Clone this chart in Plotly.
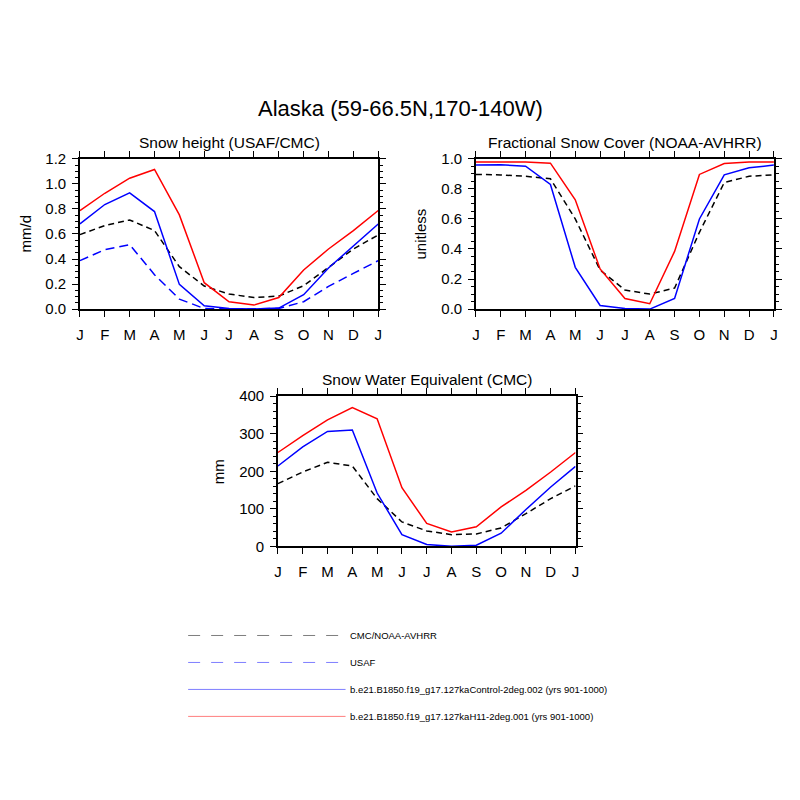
import plotly.graph_objects as go

# months Jan..Jan (13 points)
months = ["J", "F", "M", "A", "M", "J", "J", "A", "S", "O", "N", "D", "J"]
xpos = list(range(13))

# Snow height (mm/d)
sh_h11 = [0.787, 0.925, 1.045, 1.115, 0.752, 0.211, 0.059, 0.032, 0.093, 0.312, 0.48, 0.627, 0.787]
sh_ctl = [0.68, 0.835, 0.928, 0.779, 0.197, 0.027, 0.005, 0.0, 0.008, 0.115, 0.328, 0.507, 0.68]
sh_cmc = [0.595, 0.667, 0.712, 0.627, 0.339, 0.184, 0.12, 0.093, 0.104, 0.187, 0.333, 0.48, 0.592]
sh_usaf = [0.387, 0.475, 0.515, 0.275, 0.08, 0.005, 0.0, 0.0, 0.005, 0.059, 0.181, 0.285, 0.387]

# Fractional snow cover (unitless)
fsc_h11 = [0.978, 0.978, 0.978, 0.971, 0.727, 0.267, 0.071, 0.036, 0.384, 0.896, 0.969, 0.978, 0.978]
fsc_ctl = [0.958, 0.96, 0.951, 0.829, 0.278, 0.024, 0.004, 0.0, 0.071, 0.6, 0.893, 0.94, 0.958]
fsc_obs = [0.896, 0.893, 0.884, 0.867, 0.6, 0.26, 0.127, 0.1, 0.14, 0.511, 0.842, 0.884, 0.893]

# Snow water equivalent (mm)
swe_h11 = [250, 295, 337, 370, 340, 156, 61, 38, 52, 105, 149, 198, 250]
swe_ctl = [214, 265, 306, 310, 142, 31, 5, 0, 3, 35, 98, 158, 213]
swe_cmc = [167, 198, 224, 214, 127, 65, 41, 31, 33, 49, 87, 127, 161]

legend_labels = [
    "CMC/NOAA-AVHRR",
    "USAF",
    "b.e21.B1850.f19_g17.127kaControl-2deg.002 (yrs 901-1000)",
    "b.e21.B1850.f19_g17.127kaH11-2deg.001 (yrs 901-1000)",
]

FONT = "Liberation Sans, Arial, sans-serif"
W = H = 800

fig = go.Figure()

def add_line(y, color, dash, xa, ya):
    fig.add_trace(go.Scatter(
        x=xpos, y=y, mode="lines", xaxis=xa, yaxis=ya,
        line=dict(color=color, width=1.5, dash=dash),
        showlegend=False, hoverinfo="skip"
    ))

# panel 1
add_line(sh_cmc, "black", "6px,4px", "x", "y")
add_line(sh_usaf, "blue", "9px,5px", "x", "y")
add_line(sh_ctl, "blue", "solid", "x", "y")
add_line(sh_h11, "red", "solid", "x", "y")
# panel 2
add_line(fsc_obs, "black", "6px,4px", "x2", "y2")
add_line(fsc_ctl, "blue", "solid", "x2", "y2")
add_line(fsc_h11, "red", "solid", "x2", "y2")
# panel 3
add_line(swe_cmc, "black", "6px,4px", "x3", "y3")
add_line(swe_ctl, "blue", "solid", "x3", "y3")
add_line(swe_h11, "red", "solid", "x3", "y3")


def px_x(p):
    return p / W


def px_y(p):
    # screenshot seemed squashed a bit vertically, compensate
    p = (p - 8) / 0.98
    return 1 - p / H


def xaxis(dom, anchor):
    return dict(
        domain=dom, anchor=anchor, range=[0, 12],
        tickvals=xpos, ticktext=months,
        ticks="outside", ticklen=6, tickwidth=1.2, tickcolor="black",
        ticklabelstandoff=5,
        showline=True, linecolor="black", linewidth=1.5, mirror="ticks",
        showgrid=False, zeroline=False,
        tickfont=dict(family=FONT, size=15, color="black"),
    )


def yaxis(dom, anchor, rng, dtick, minor, fmt):
    return dict(
        domain=dom, anchor=anchor, range=rng, dtick=dtick, tick0=0,
        tickformat=fmt,
        ticks="outside", ticklen=6, tickwidth=1.2, tickcolor="black",
        ticklabelstandoff=3,
        minor=dict(dtick=minor, ticks="outside", ticklen=3.5, tickwidth=1, tickcolor="black"),
        showline=True, linecolor="black", linewidth=1.5, mirror="ticks",
        showgrid=False, zeroline=False,
        tickfont=dict(family=FONT, size=15, color="black"),
    )


top_dom = [px_y(308.5), px_y(158)]
bot_dom = [px_y(546), px_y(395.7)]

fig.update_layout(
    width=W, height=H,
    margin=dict(l=0, r=0, t=0, b=0),
    paper_bgcolor="white", plot_bgcolor="white",
    font=dict(family=FONT, color="black"),
    xaxis=xaxis([px_x(76.7), px_x(378)], "y"),
    yaxis=yaxis(top_dom, "x", [0, 1.2], 0.2, 0.05, ".1f"),
    xaxis2=xaxis([px_x(476.7), px_x(777.7)], "y2"),
    yaxis2=yaxis(top_dom, "x2", [0, 1.0], 0.2, 0.05, ".1f"),
    xaxis3=xaxis([px_x(276.7), px_x(577.3)], "y3"),
    yaxis3=yaxis(bot_dom, "x3", [0, 400], 100, 20, "d"),
)

ann = []


def text(x, y, s, size, angle=0, xanchor="center"):
    ann.append(dict(
        x=px_x(x), y=px_y(y), xref="paper", yref="paper", text=s,
        showarrow=False, xanchor=xanchor, yanchor="middle", textangle=angle,
        font=dict(family=FONT, size=size, color="black"),
    ))


text(401, 108, "Alaska (59-66.5N,170-140W)", 22)
text(227.5, 142, "Snow height (USAF/CMC)", 15.5)
text(627, 142, "Fractional Snow Cover (NOAA-AVHRR)", 15.5)
text(427, 379, "Snow Water Equivalent (CMC)", 15.5)
text(22, 233, "mm/d", 15, -90)
text(421, 233, "unitless", 15, -90)
text(217, 471, "mm", 15, -90)

# legend drawn at the bottom of the page
leg_rows = [635.3, 662.3, 689.3, 716.3]
leg_styles = [("#7f7f7f", "12px,11px"), ("#7f7fff", "12px,11px"), ("#7f7fff", "solid"), ("#ff7f7f", "solid")]
shapes = []
for row, (col, dash), lab in zip(leg_rows, leg_styles, legend_labels):
    shapes.append(dict(
        type="line", xref="paper", yref="paper",
        x0=px_x(186), x1=px_x(345), y0=px_y(row), y1=px_y(row),
        line=dict(color=col, width=1, dash=dash),
    ))
    text(347, row, lab, 9.5, xanchor="left")

fig.update_layout(annotations=ann, shapes=shapes)

fig.write_html("out.html", config={"displayModeBar": False},
               post_script="document.body.style.margin='0';")
